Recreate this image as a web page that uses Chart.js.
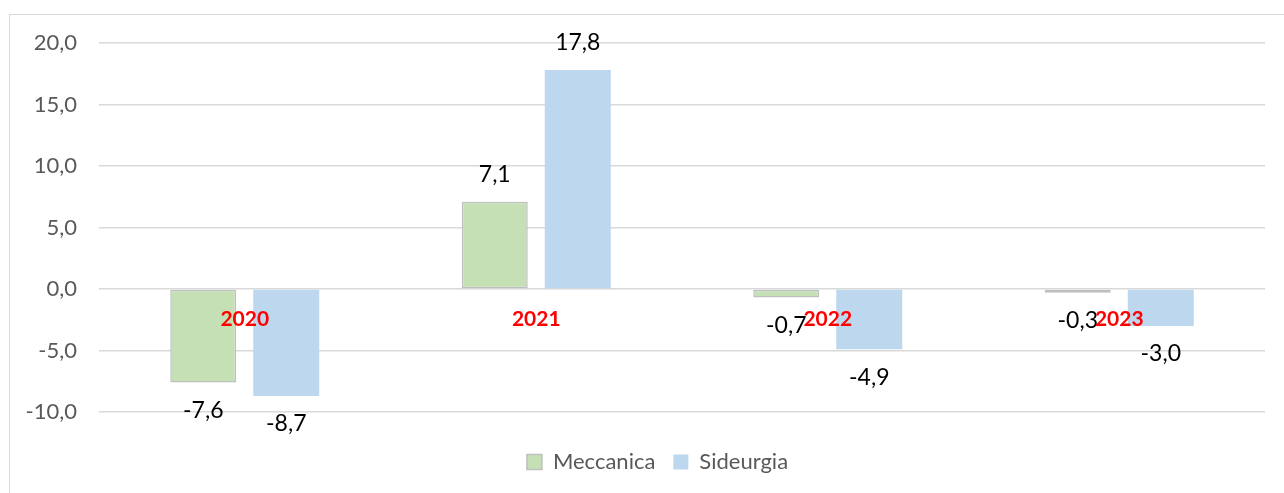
<!DOCTYPE html>
<html>
<head>
<meta charset="utf-8">
<script src="https://cdn.jsdelivr.net/npm/chart.js@4.4.1/dist/chart.umd.min.js"></script>
<style>
  html, body { margin: 0; padding: 0; background: #fff; overflow: hidden; }
  #wrap { position: relative; width: 1284px; height: 493px; }
  #frame { position: absolute; left: 9px; top: 14px; width: 1400px; height: 600px; border: 1.5px solid #d9d9d9; box-sizing: border-box; }
  canvas { position: absolute; left: 0; top: 0; }
</style>
</head>
<body>
<div id="wrap">
  <div id="frame"></div>
  <canvas id="c" width="1284" height="493"></canvas>
</div>
<script>
const categories = ['2020', '2021', '2022', '2023'];
const meccanica = [-7.6, 7.1, -0.7, -0.3];
const siderurgia = [-8.7, 17.8, -4.9, -3.0];
const seriesNames = ['Meccanica', 'Sideurgia'];
const yTicks = [-10, -5, 0, 5, 10, 15, 20];

const FONT = 'Lato, "Liberation Sans", sans-serif';
const fmt = v => v.toFixed(1).replace('.', ',');

const valueLabels = {
  id: 'valueLabels',
  afterDatasetsDraw(chart) {
    const ctx = chart.ctx;
    ctx.save();
    ctx.font = '23px ' + FONT;
    ctx.fillStyle = '#000000';
    ctx.textAlign = 'center';
    ctx.textBaseline = 'middle';
    chart.data.datasets.forEach((ds, di) => {
      const meta = chart.getDatasetMeta(di);
      meta.data.forEach((bar, i) => {
        const v = ds.data[i];
        const y = v >= 0 ? bar.y - 27 : bar.y + 28;
        ctx.fillText(fmt(v), bar.x, y);
      });
    });
    ctx.restore();
  }
};

const legendShift = {
  id: 'legendShift',
  afterLayout(chart) {
    if (chart.legend) { chart.legend.left += 50; }
  }
};

new Chart(document.getElementById('c'), {
  type: 'bar',
  data: {
    labels: categories,
    datasets: [
      {
        label: seriesNames[0],
        data: meccanica,
        backgroundColor: '#c5e0b4',
        borderColor: '#bfbfbf',
        borderWidth: 1.5,
        borderSkipped: false,
        categoryPercentage: 0.5695,
        barPercentage: 0.795
      },
      {
        label: seriesNames[1],
        data: siderurgia,
        backgroundColor: '#bdd7ee',
        borderWidth: 0,
        categoryPercentage: 0.5695,
        barPercentage: 0.795
      }
    ]
  },
  options: {
    responsive: false,
    animation: false,
    devicePixelRatio: 1,
    layout: { padding: { top: 43, right: 19, bottom: 10, left: 0 } },
    plugins: {
      legend: {
        position: 'bottom',
        title: { display: true, text: '', font: { size: 1, lineHeight: 1 }, padding: { top: 20, bottom: 0 } },
        labels: {
          font: { family: FONT, size: 22 },
          color: '#595959',
          boxWidth: 15,
          boxHeight: 15,
          padding: 18
        }
      },
      tooltip: { enabled: false }
    },
    scales: {
      x: {
        position: { y: 0 },
        grid: { display: false, drawTicks: false },
        border: { display: false },
        ticks: {
          z: 1,
          color: '#ff0000',
          font: { family: FONT, size: 21, weight: 'bold' },
          padding: 18
        }
      },
      y: {
        min: -10,
        max: 20,
        afterBuildTicks(scale) { scale.ticks = yTicks.map(v => ({ value: v })); },
        afterFit(scale) { scale.width = 99; },
        grid: { color: '#d9d9d9', lineWidth: 1.5, drawTicks: false },
        border: { display: false },
        ticks: {
          color: '#595959',
          font: { family: FONT, size: 22 },
          padding: 22,
          callback: v => fmt(v)
        }
      }
    }
  },
  plugins: [valueLabels, legendShift]
});
</script>
</body>
</html>
